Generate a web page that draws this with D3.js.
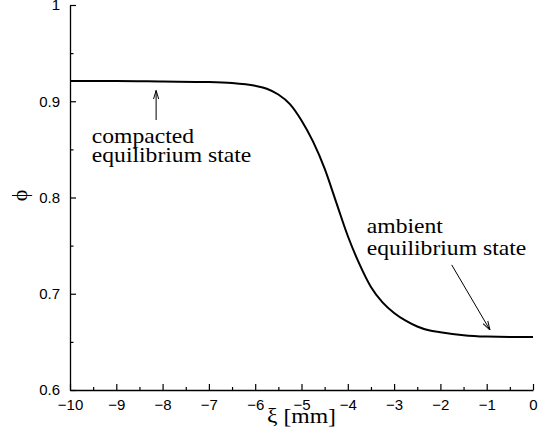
<!DOCTYPE html>
<html>
<head>
<meta charset="utf-8">
<script src="https://cdn.jsdelivr.net/npm/d3@7"></script>
<style>
    body { margin: 0; background: #fff; }
</style>
</head>
<body>
<div id="chart"></div>
<script>
// profile
var xi = [-10, -9, -8, -7, -6.5, -6, -5.75, -5.5, -5.25, -5, -4.75, -4.5, -4.25, -4,
    -3.75, -3.5, -3.25, -3, -2.75, -2.5, -2.25, -2, -1.5, -1, -0.5, 0];
var phi = [0.921, 0.921, 0.9205, 0.920, 0.919, 0.916, 0.913, 0.907, 0.897, 0.880, 0.858, 0.830,
    0.795, 0.760, 0.731, 0.707, 0.691, 0.680, 0.672, 0.666, 0.662, 0.660, 0.657, 0.6555, 0.655, 0.655];
var xTicks = [-10, -9, -8, -7, -6, -5, -4, -3, -2, -1, 0];
var yTicks = [0.6, 0.7, 0.8, 0.9, 1];

var margin = {top: 5, right: 13, bottom: 50, left: 70},
    width = 546 - margin.left - margin.right,
    height = 440 - margin.top - margin.bottom;

var sans = "'Liberation Sans', Arial, sans-serif",
    serif = "'Liberation Serif', 'Times New Roman', serif",
    stretch = 1.075;

var x = d3.scaleLinear().domain([-10, 0]).range([0, width]);
var y = d3.scaleLinear().domain([0.6, 1]).range([height, 0]);

var svg = d3.select("#chart").append("svg")
    .attr("width", 546)
    .attr("height", 440)
    .append("g")
    .attr("transform", "translate(" + margin.left + "," + margin.top + ")");

svg.append("defs").append("marker")
    .attr("id", "head")
    .attr("viewBox", "0 0 10 10")
    .attr("refX", 10)
    .attr("refY", 5)
    .attr("markerWidth", 9)
    .attr("markerHeight", 9)
    .attr("markerUnits", "userSpaceOnUse")
    .attr("orient", "auto")
    .append("path")
    .attr("d", "M0,2 L10,5 L0,8")
    .attr("fill", "none")
    .attr("stroke", "#000")
    .attr("stroke-width", 1.1);

function styleAxis(g) {
    g.selectAll("line").style("stroke", "#000").style("stroke-width", 1.2);
    g.selectAll("path").style("stroke", "#000").style("stroke-width", 1.3);
    g.selectAll("text")
        .style("font-family", sans)
        .style("font-size", "15px")
        .style("fill", "#000");
}

// minor ticks
svg.append("g")
    .attr("transform", "translate(0," + height + ")")
    .call(d3.axisBottom(x).tickValues(d3.range(-9.5, 0, 1)).tickSize(-3).tickFormat(""))
    .call(styleAxis)
    .select(".domain").remove();
svg.append("g")
    .call(d3.axisLeft(y).tickValues([0.65, 0.75, 0.85, 0.95]).tickSize(-3.5).tickFormat(""))
    .call(styleAxis)
    .select(".domain").remove();

svg.append("g")
    .attr("transform", "translate(0," + height + ")")
    .call(d3.axisBottom(x).tickValues(xTicks).tickSize(-6).tickSizeOuter(0).tickPadding(9)
        .tickFormat(d3.format("")))
    .call(styleAxis);
svg.append("g")
    .call(d3.axisLeft(y).tickValues(yTicks).tickSize(-6).tickSizeOuter(0).tickPadding(10)
        .tickFormat(d3.format("")))
    .call(styleAxis);

var line = d3.line()
    .curve(d3.curveMonotoneX)
    .x(function(d, i) { return x(xi[i]); })
    .y(function(d) { return y(d); });

svg.append("path")
    .datum(phi)
    .attr("d", line)
    .attr("fill", "none")
    .attr("stroke", "#000")
    .attr("stroke-width", 2);

// annotations
var arrows = [
    {x1: -8.14, y1: 0.8805, x2: -8.14, y2: 0.9112},
    {x1: -1.756, y1: 0.730, x2: -0.929, y2: 0.6623}
];
svg.selectAll(".arrow")
    .data(arrows)
    .enter().append("line")
    .attr("class", "arrow")
    .attr("x1", function(d) { return x(d.x1); })
    .attr("y1", function(d) { return y(d.y1); })
    .attr("x2", function(d) { return x(d.x2); })
    .attr("y2", function(d) { return y(d.y2); })
    .attr("stroke", "#000")
    .attr("stroke-width", 1)
    .attr("marker-end", "url(#head)");

var notes = [
    {text: "compacted", x: -9.53, y: 0.857},
    {text: "equilibrium state", x: -9.53, y: 0.837},
    {text: "ambient", x: -3.59, y: 0.763},
    {text: "equilibrium state", x: -3.59, y: 0.740}
];
svg.selectAll(".note")
    .data(notes)
    .enter().append("text")
    .attr("class", "note")
    .attr("transform", function(d) {
        return "translate(" + x(d.x) + "," + y(d.y) + ") scale(" + stretch + ",1)";
    })
    .style("font-family", serif)
    .style("font-size", "22px")
    .style("fill", "#000")
    .text(function(d) { return d.text; });

svg.append("text")
    .attr("transform", "translate(" + (width / 2) + "," + (height + 33) + ") scale(" + stretch + ",1)")
    .attr("text-anchor", "middle")
    .style("font-family", serif)
    .style("font-size", "22px")
    .text("ξ [mm]");

svg.append("text")
    .attr("text-anchor", "middle")
    .attr("transform", "translate(" + (-49.5) + "," + (height / 2 - 2) + ") rotate(-90)")
    .attr("dy", "0.3em")
    .style("font-family", serif)
    .style("font-size", "22px")
    .text("ϕ");
</script>
</body>
</html>
